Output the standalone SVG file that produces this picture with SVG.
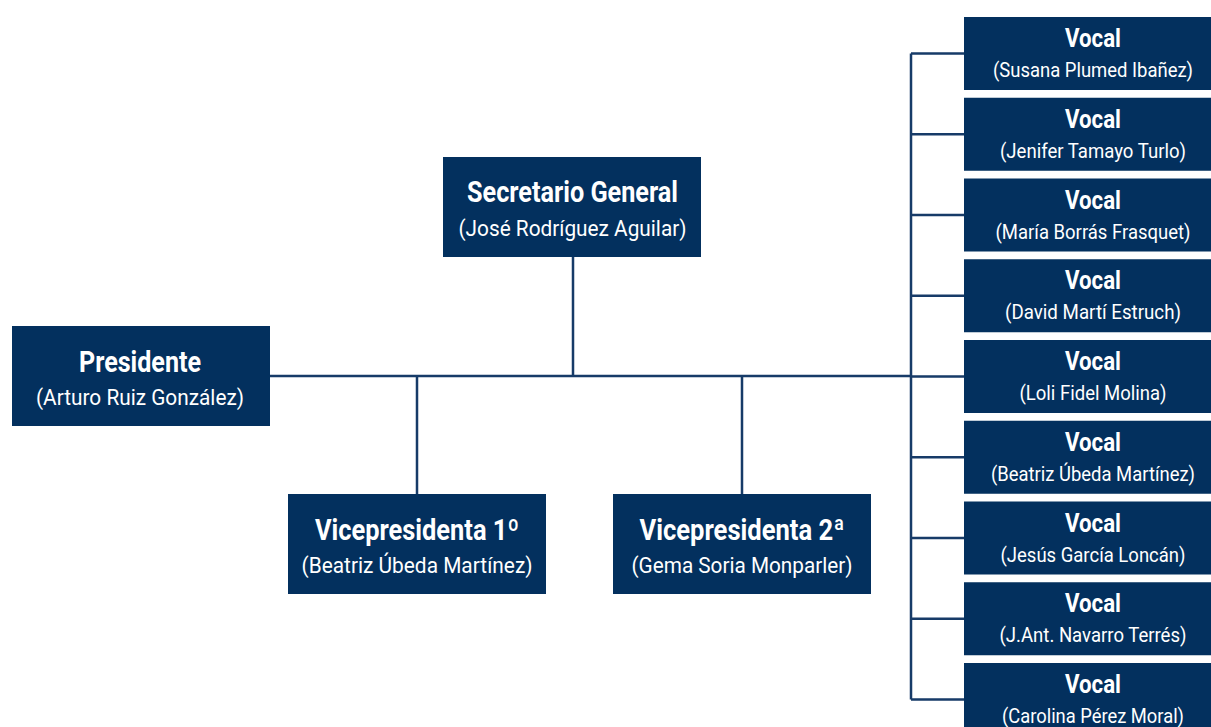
<svg xmlns="http://www.w3.org/2000/svg" width="1211" height="727" viewBox="0 0 1211 727">
<style>
.box{fill:#03305e}
.t{font-family:Roboto,"Liberation Sans",sans-serif;fill:#ffffff;text-anchor:middle}
.h{font-weight:bold;font-size:29px}
.s{font-size:22px}
.vh{font-weight:bold;font-size:25px}
.vs{font-size:20px}
.ln{stroke:#173b68;stroke-width:2.5;fill:none}
</style>
<rect width="1211" height="727" fill="#ffffff"/>
<g id="connectors">
<path class="ln" d="M270 376H911M573 257V376M417 376V494M742 376V494"/>
<path class="ln" d="M911 53.5V699.5M911 53.5H964M911 134.25H964M911 215H964M911 295.75H964M911 376.5H964M911 457.25H964M911 538H964M911 618.75H964M911 699.5H964"/>
</g>
<g id="presidente">
<rect class="box" x="12" y="326" width="258" height="100"/>
<text class="t h" x="140" y="372" textLength="122" lengthAdjust="spacingAndGlyphs">Presidente</text>
<text class="t s" x="140" y="405" textLength="208" lengthAdjust="spacingAndGlyphs">(Arturo Ruiz González)</text>
</g>
<g id="secretario">
<rect class="box" x="443" y="157" width="258" height="100"/>
<text class="t h" x="572.5" y="202" textLength="211" lengthAdjust="spacingAndGlyphs">Secretario General</text>
<text class="t s" x="572.5" y="236" textLength="228" lengthAdjust="spacingAndGlyphs">(José Rodríguez Aguilar)</text>
</g>
<g id="vice1">
<rect class="box" x="288" y="494" width="258" height="100"/>
<text class="t h" x="417" y="540" textLength="204" lengthAdjust="spacingAndGlyphs">Vicepresidenta 1º</text>
<text class="t s" x="417" y="573" textLength="231" lengthAdjust="spacingAndGlyphs">(Beatriz Úbeda Martínez)</text>
</g>
<g id="vice2">
<rect class="box" x="613" y="494" width="258" height="100"/>
<text class="t h" x="742" y="540" textLength="205" lengthAdjust="spacingAndGlyphs">Vicepresidenta 2ª</text>
<text class="t s" x="742" y="573" textLength="221" lengthAdjust="spacingAndGlyphs">(Gema Soria Monparler)</text>
</g>
<g id="vocal1">
<rect class="box" x="964" y="17" width="258" height="73"/>
<text class="t vh" x="1093" y="47" textLength="56" lengthAdjust="spacingAndGlyphs">Vocal</text>
<text class="t vs" x="1093" y="77" textLength="200" lengthAdjust="spacingAndGlyphs">(Susana Plumed Ibañez)</text>
</g>
<g id="vocal2">
<rect class="box" x="964" y="97.75" width="258" height="73"/>
<text class="t vh" x="1093" y="127.75" textLength="56" lengthAdjust="spacingAndGlyphs">Vocal</text>
<text class="t vs" x="1093" y="157.75" textLength="186" lengthAdjust="spacingAndGlyphs">(Jenifer Tamayo Turlo)</text>
</g>
<g id="vocal3">
<rect class="box" x="964" y="178.5" width="258" height="73"/>
<text class="t vh" x="1093" y="208.5" textLength="56" lengthAdjust="spacingAndGlyphs">Vocal</text>
<text class="t vs" x="1093" y="238.5" textLength="195" lengthAdjust="spacingAndGlyphs">(María Borrás Frasquet)</text>
</g>
<g id="vocal4">
<rect class="box" x="964" y="259.25" width="258" height="73"/>
<text class="t vh" x="1093" y="289.25" textLength="56" lengthAdjust="spacingAndGlyphs">Vocal</text>
<text class="t vs" x="1093" y="319.25" textLength="176" lengthAdjust="spacingAndGlyphs">(David Martí Estruch)</text>
</g>
<g id="vocal5">
<rect class="box" x="964" y="340" width="258" height="73"/>
<text class="t vh" x="1093" y="370" textLength="56" lengthAdjust="spacingAndGlyphs">Vocal</text>
<text class="t vs" x="1093" y="400" textLength="147" lengthAdjust="spacingAndGlyphs">(Loli Fidel Molina)</text>
</g>
<g id="vocal6">
<rect class="box" x="964" y="420.75" width="258" height="73"/>
<text class="t vh" x="1093" y="450.75" textLength="56" lengthAdjust="spacingAndGlyphs">Vocal</text>
<text class="t vs" x="1093" y="480.75" textLength="204" lengthAdjust="spacingAndGlyphs">(Beatriz Úbeda Martínez)</text>
</g>
<g id="vocal7">
<rect class="box" x="964" y="501.5" width="258" height="73"/>
<text class="t vh" x="1093" y="531.5" textLength="56" lengthAdjust="spacingAndGlyphs">Vocal</text>
<text class="t vs" x="1093" y="561.5" textLength="185" lengthAdjust="spacingAndGlyphs">(Jesús García Loncán)</text>
</g>
<g id="vocal8">
<rect class="box" x="964" y="582.25" width="258" height="73"/>
<text class="t vh" x="1093" y="612.25" textLength="56" lengthAdjust="spacingAndGlyphs">Vocal</text>
<text class="t vs" x="1093" y="642.25" textLength="187" lengthAdjust="spacingAndGlyphs">(J.Ant. Navarro Terrés)</text>
</g>
<g id="vocal9">
<rect class="box" x="964" y="663" width="258" height="73"/>
<text class="t vh" x="1093" y="693" textLength="56" lengthAdjust="spacingAndGlyphs">Vocal</text>
<text class="t vs" x="1093" y="723" textLength="182" lengthAdjust="spacingAndGlyphs">(Carolina Pérez Moral)</text>
</g>
</svg>
